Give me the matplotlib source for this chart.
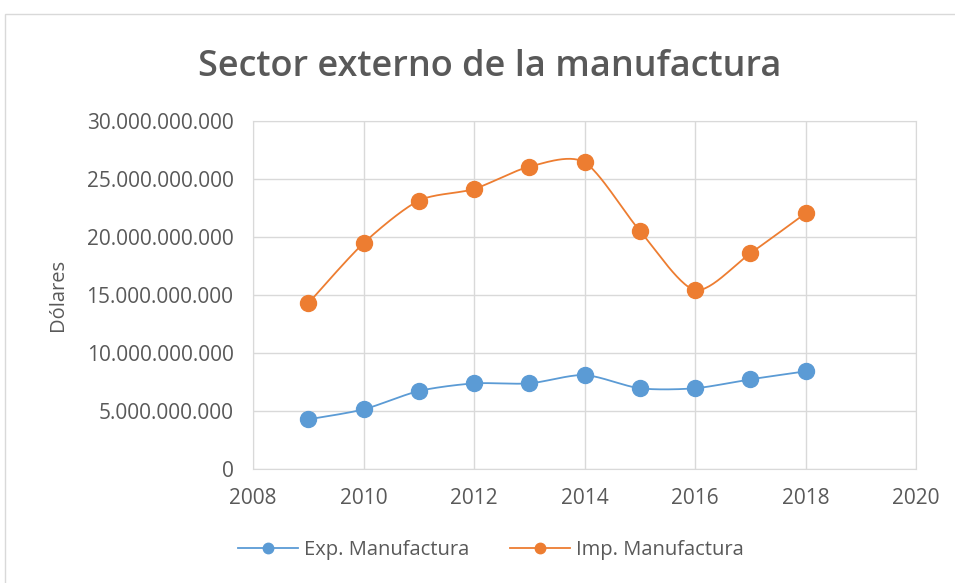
import numpy as np
import matplotlib
matplotlib.use("Agg")
import matplotlib.pyplot as plt
from matplotlib.patches import Rectangle
from matplotlib.ticker import FuncFormatter

years = [2009, 2010, 2011, 2012, 2013, 2014, 2015, 2016, 2017, 2018]
exp_manuf = [4.28e9, 5.14e9, 6.72e9, 7.38e9, 7.38e9, 8.10e9, 6.96e9, 6.96e9, 7.73e9, 8.42e9]
imp_manuf = [14.28e9, 19.46e9, 23.13e9, 24.14e9, 26.06e9, 26.44e9, 20.54e9, 15.43e9, 18.59e9, 22.04e9]
series_names = ["Exp. Manufactura", "Imp. Manufactura"]
x_ticks = [2008, 2010, 2012, 2014, 2016, 2018, 2020]
y_ticks = [0, 5e9, 10e9, 15e9, 20e9, 25e9, 30e9]
title = "Sector externo de la manufactura"
ylabel = "Dólares"

plt.rcParams['font.family'] = ['Open Sans', 'DejaVu Sans']
TEXT = "#595959"
GRID = "#D9D9D9"


def smooth(x, y, n=30, tension=0.4):
    """Cardinal-spline smoothing similar to Excel's smoothed line."""
    x = np.asarray(x, float)
    y = np.asarray(y, float)
    px = np.concatenate([[x[0]], x, [x[-1]]])
    py = np.concatenate([[y[0]], y, [y[-1]]])
    xs, ys = [], []
    for i in range(1, len(px) - 2):
        p0x, p1x, p2x, p3x = px[i-1], px[i], px[i+1], px[i+2]
        p0y, p1y, p2y, p3y = py[i-1], py[i], py[i+1], py[i+2]
        m1x, m1y = tension * (p2x - p0x), tension * (p2y - p0y)
        m2x, m2y = tension * (p3x - p1x), tension * (p3y - p1y)
        t = np.linspace(0, 1, n)
        h00 = 2*t**3 - 3*t**2 + 1
        h10 = t**3 - 2*t**2 + t
        h01 = -2*t**3 + 3*t**2
        h11 = t**3 - t**2
        xs.append(h00*p1x + h10*m1x + h01*p2x + h11*m2x)
        ys.append(h00*p1y + h10*m1y + h01*p2y + h11*m2y)
    return np.concatenate(xs), np.concatenate(ys)


fig = plt.figure(figsize=(9.55, 5.83), dpi=100)
fig.patches.append(Rectangle((5/955, -0.1), 1.2, 1.1 - 14/583, transform=fig.transFigure,
                             fill=False, edgecolor=GRID, linewidth=1.0))
ax = fig.add_axes([253/955, 1 - 469/583, (916 - 253)/955, (469 - 121)/583])

colors = ["#5B9BD5", "#ED7D31"]
for vals, name, c in zip([exp_manuf, imp_manuf], series_names, colors):
    sx, sy = smooth(years, vals)
    ax.plot(sx, sy, color=c, linewidth=1.3, zorder=3)
    ax.plot(years, vals, linestyle='none', marker='o', markersize=11.5,
            color=c, markeredgecolor=c, zorder=4)
    ax.plot([], [], color=c, linewidth=1.3, marker='o', markersize=7.5, label=name)

ax.set_xlim(2008, 2020)
ax.set_ylim(0, 30e9)
ax.set_xticks(x_ticks)
ax.set_yticks(y_ticks)
ax.yaxis.set_major_formatter(FuncFormatter(lambda v, p: f"{int(round(v)):,}".replace(",", ".")))
ax.grid(True, color=GRID, linewidth=1.0)
ax.set_axisbelow(True)
for s in ax.spines.values():
    s.set_color(GRID)
ax.tick_params(axis='both', length=0, labelsize=15, labelcolor=TEXT)
ax.tick_params(axis='y', pad=14)
ax.tick_params(axis='x', pad=14)

fig.text(58/955, 1 - 295/583, ylabel, rotation=90, ha='center', va='center',
         fontsize=14.5, color=TEXT)

fig.text(490/955, 1 - 67/583, title, ha='center', va='center', fontsize=26,
         fontweight='semibold', color=TEXT)

fig.legend(loc='center', bbox_to_anchor=(491/955, 1 - 550/583), ncol=2, frameon=False,
           fontsize=14.5, labelcolor=TEXT, handlelength=3.0, columnspacing=2.0,
           handletextpad=0.3)

fig.savefig("out.png", dpi=100, facecolor="white")
